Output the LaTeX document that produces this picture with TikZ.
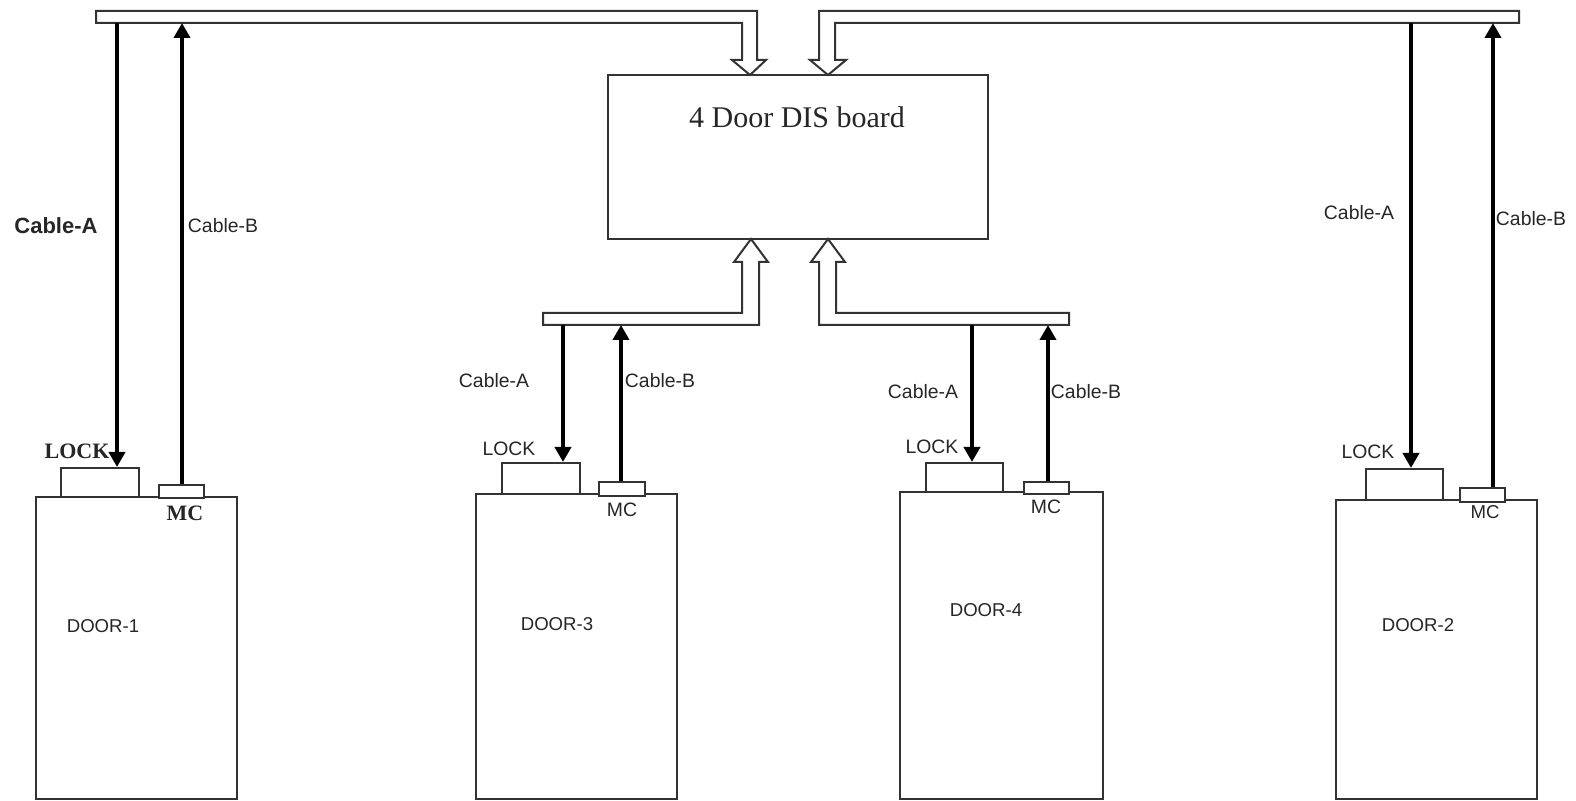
\documentclass[tikz,border=0pt]{standalone}
\usepackage{fontspec}
\setmainfont{Liberation Sans}
\newfontfamily\tnr{Liberation Serif}
\usetikzlibrary{arrows.meta}
\begin{document}
\begin{tikzpicture}[x=0.5pt,y=-0.5pt,
  outline/.style={draw=black!80, line width=1pt},
  hollow/.style={outline, fill=white, line join=miter},
  box/.style={outline, fill=white, inner sep=0pt},
  cable/.style={line width=2.2pt, draw=black, -{Triangle[width=8pt,length=7.5pt]}},
  lbl/.style={text=black!85, inner sep=0pt, font=\fontsize{9.7}{11}\selectfont},
  lblsm/.style={text=black!85, inner sep=0pt, font=\fontsize{9.3}{11}\selectfont},
  serifb/.style={text=black!85, inner sep=0pt, font=\tnr\bfseries\fontsize{11}{13}\selectfont},
]
\path[use as bounding box] (0,0) rectangle (1576,801);

% DIS board
\node[box, minimum width=190pt, minimum height=82pt] (board) at (798,157) {};
\node[text=black!85, inner sep=0pt, font=\tnr\fontsize{15}{18}\selectfont] (boardtxt) at (797,117) {4 Door DIS board};

% hollow bus bars with arrows
\draw[hollow] (96,11) -- (757,11) -- (757,60) -- (766,60) -- (750,75) -- (732,60) -- (742,60) -- (742,23) -- (96,23) -- cycle;
\draw[hollow] (1519,11) -- (819,11) -- (819,60) -- (810,60) -- (828,75) -- (846,60) -- (835,60) -- (835,23) -- (1519,23) -- cycle;
\draw[hollow] (543,313) -- (742,313) -- (742,262) -- (734,262) -- (751,239) -- (768,262) -- (759,262) -- (759,325) -- (543,325) -- cycle;
\draw[hollow] (1069,313) -- (836,313) -- (836,262) -- (845,262) -- (828,239) -- (811,262) -- (819,262) -- (819,325) -- (1069,325) -- cycle;

\coordinate (bus1A) at (117,23);
\coordinate (bus1B) at (182,23);
\coordinate (bus3A) at (563,325);
\coordinate (bus3B) at (621,325);
\coordinate (bus4A) at (972,325);
\coordinate (bus4B) at (1048,325);
\coordinate (bus2A) at (1411,23);
\coordinate (bus2B) at (1493,23);

% doors
\node[box, minimum width=100.5pt, minimum height=151pt] (door1) at (136.5,648) {};
\node[box, minimum width=100.5pt, minimum height=152.5pt] (door3) at (576.5,646.5) {};
\node[box, minimum width=101.5pt, minimum height=153.5pt] (door4) at (1001.5,645.5) {};
\node[box, minimum width=100.5pt, minimum height=149.5pt] (door2) at (1436.5,649.5) {};

% locks
\node[box, minimum width=39pt, minimum height=14.5pt] (lock1) at (100,482.5) {};
\node[box, minimum width=39pt, minimum height=15.5pt] (lock3) at (541,478.5) {};
\node[box, minimum width=38.5pt, minimum height=14.5pt] (lock4) at (964.5,477.5) {};
\node[box, minimum width=38.5pt, minimum height=15.5pt] (lock2) at (1404.5,484.5) {};

% magnetic contacts
\node[box, minimum width=22.5pt, minimum height=6.5pt] (mc1) at (181.5,491.5) {};
\node[box, minimum width=23pt, minimum height=7pt] (mc3) at (622,489) {};
\node[box, minimum width=22.5pt, minimum height=6pt] (mc4) at (1046.5,488) {};
\node[box, minimum width=22.5pt, minimum height=7pt] (mc2) at (1482.5,495) {};

% cables
\draw[cable] (bus1A) -- (bus1A |- lock1.north);
\draw[cable] (mc1.north -| bus1B) -- (bus1B);
\draw[cable] (bus3A) -- (bus3A |- lock3.north);
\draw[cable] (mc3.north -| bus3B) -- (bus3B);
\draw[cable] (bus4A) -- (bus4A |- lock4.north);
\draw[cable] (mc4.north -| bus4B) -- (bus4B);
\draw[cable] (bus2A) -- (bus2A |- lock2.north);
\draw[cable] (mc2.north -| bus2B) -- (bus2B);

% labels door 1
\node[text=black!85, inner sep=0pt, font=\bfseries\fontsize{11}{13}\selectfont] (c1a) at (56,226) {Cable-A};
\node[lbl] (c1b) at (223,226) {Cable-B};
\node[serifb] (l1) at (77,451) {LOCK};
\node[serifb] (m1) at (185,513) {MC};
\node[lblsm] (d1) at (103,626) {DOOR-1};

% labels door 3
\node[lbl] (c3a) at (494,381) {Cable-A};
\node[lbl] (c3b) at (660,381) {Cable-B};
\node[lbl] (l3) at (509,449) {LOCK};
\node[lbl] (m3) at (622,510) {MC};
\node[lblsm] (d3) at (557,624) {DOOR-3};

% labels door 4
\node[lbl] (c4a) at (923,392) {Cable-A};
\node[lbl] (c4b) at (1086,392) {Cable-B};
\node[lbl] (l4) at (932,447) {LOCK};
\node[lbl] (m4) at (1046,507) {MC};
\node[lblsm] (d4) at (986,610) {DOOR-4};

% labels door 2
\node[lbl] (c2a) at (1359,213) {Cable-A};
\node[lbl] (c2b) at (1531,219) {Cable-B};
\node[lbl] (l2) at (1368,452) {LOCK};
\node[lblsm] (m2) at (1485,512) {MC};
\node[lblsm] (d2) at (1418,625) {DOOR-2};
\end{tikzpicture}
\end{document}
